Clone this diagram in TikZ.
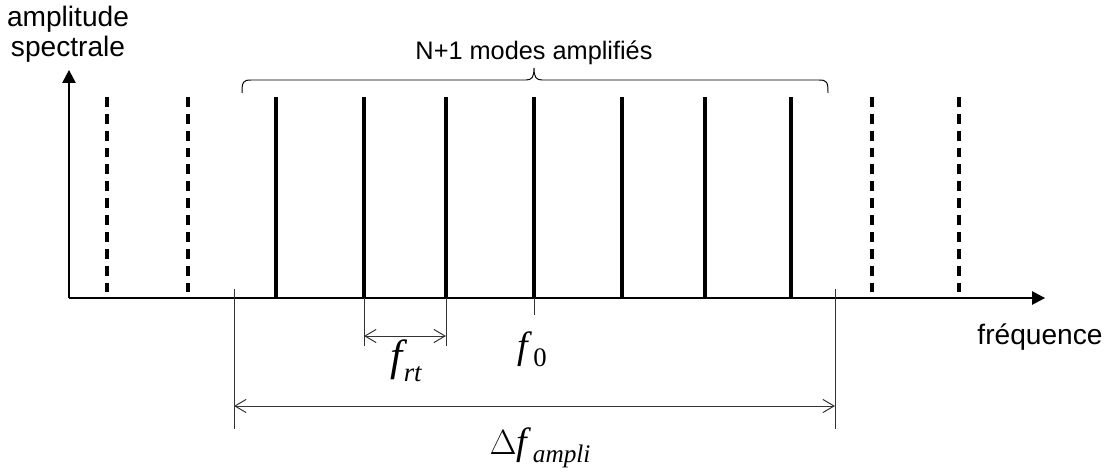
\documentclass[tikz,border=0pt]{standalone}
\usepackage{fontspec}
\setmainfont{Liberation Sans}
\newfontfamily\tnr{Liberation Serif}
\usetikzlibrary{arrows.meta}

\begin{document}
\begin{tikzpicture}[x=0.025cm,y=-0.025cm,
    axis/.style={line width=1pt,-{Triangle[length=0.32cm,width=0.33cm]}},
    mode/.style={line width=3pt},
    sidemode/.style={line width=2.2pt,dash pattern=on 7pt off 5pt},
    dimline/.style={line width=0.7pt,black!80},
    dimarrow/.style={line width=0.7pt,black!80,
      {Straight Barb[length=0.28cm,width=0.33cm]}-{Straight Barb[length=0.28cm,width=0.33cm]}},
    txt/.style={font=\fontsize{20}{21}\selectfont,inner sep=0pt}]
    \useasboundingbox (0,0) rectangle (1109,473);
    % axes
    \coordinate (O) at (69,298);
    \coordinate (ytop) at (69,70);
    \coordinate (xend) at (1045,298);
    \draw[axis] (O) -- (ytop);
    \draw[axis] (O) -- (xend);
    \node[txt,align=center,anchor=north] (ylabel) at (68,6) {amplitude\\spectrale};
    \node[txt,anchor=base] (xlabel) at (1040,344) {fréquence};
    % side modes (not amplified)
    \foreach \x in {107,188,872,959}
        \draw[sidemode] (\x,97) -- (\x,298);
    % amplified modes
    \foreach \x in {276,364,446,534,622,705,791}
        \draw[mode] (\x,97) -- (\x,298);
    % brace over the amplified modes
    \draw[line width=0.7pt] (242,93) .. controls (242,82) and (243,80) .. (251,80)
        -- (526,80) .. controls (532,80) and (534,77) .. (534,68)
        .. controls (534,77) and (536,80) .. (542,80)
        -- (819,80) .. controls (827,80) and (828,82) .. (828,93);
    \node[txt,font=\fontsize{18}{20}\selectfont,anchor=base] (nmodes) at (534,60) {N+1 modes amplifiés};
    % free spectral range
    \coordinate (rtL) at (364,336);
    \coordinate (rtR) at (446,336);
    \draw[dimline] (364,298) -- (364,346);
    \draw[dimline] (446,298) -- (446,346);
    \draw[dimarrow] (rtL) -- (rtR);
    \node[inner sep=0pt] (frt) at (406,361)
        {\tnr\itshape\fontsize{31}{31}\selectfont f\kern1pt\raisebox{-8pt}{\fontsize{19}{19}\selectfont rt}};
    % central frequency
    \draw[dimline] (534,298) -- (534,315);
    \node[inner sep=0pt] (f0) at (532,349)
        {\tnr\fontsize{27}{27}\selectfont\textit{f}\kern1pt\raisebox{-6pt}{\fontsize{19}{19}\selectfont 0}};
    % amplifier bandwidth
    \coordinate (bwL) at (234,406);
    \coordinate (bwR) at (835,406);
    \draw[dimline] (234,289) -- (234,429);
    \draw[dimline] (835,289) -- (835,429);
    \draw[dimarrow] (bwL) -- (bwR);
    \node[inner sep=0pt] (fampli) at (540,448)
        {\tnr\fontsize{27}{27}\selectfont\(\Delta\)\textit{f}\kern1pt\raisebox{-6pt}{\itshape\fontsize{18}{18}\selectfont ampli}};
\end{tikzpicture}
\end{document}
